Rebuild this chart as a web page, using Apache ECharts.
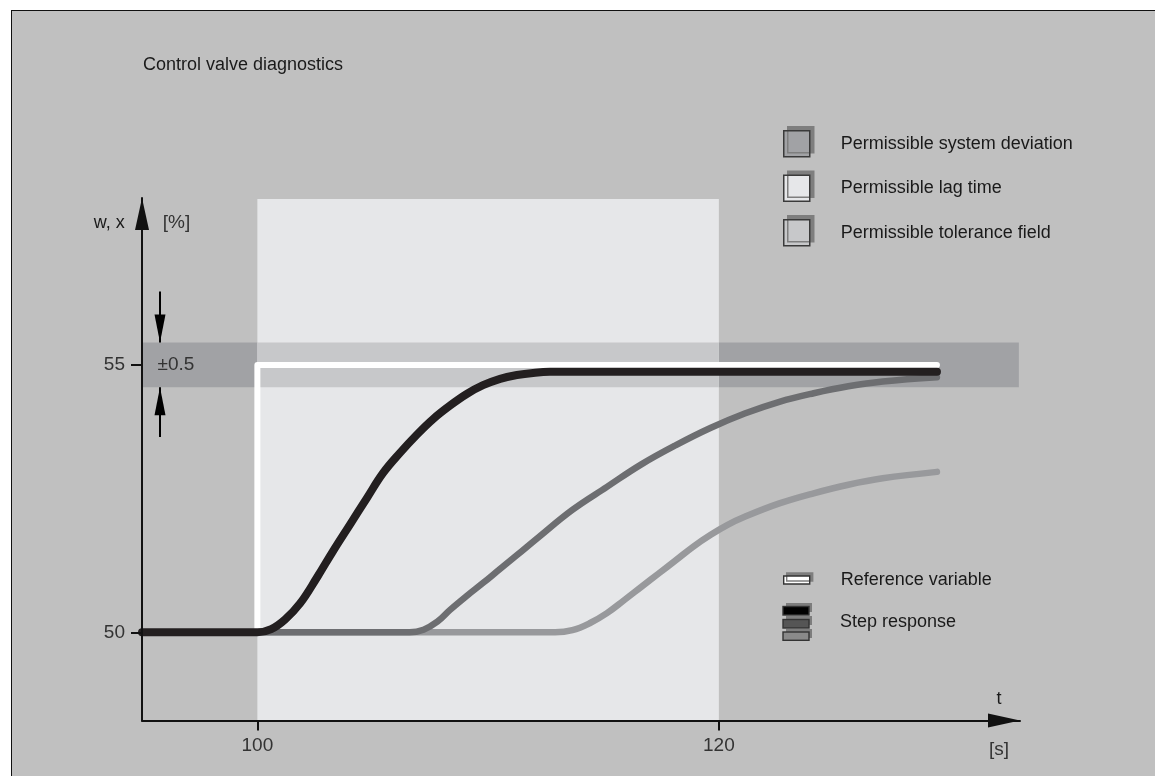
<!DOCTYPE html>
<html>
<head>
<meta charset="utf-8">
<script src="https://cdn.jsdelivr.net/npm/echarts@6/dist/echarts.min.js"></script>
<style>
html,body{margin:0;padding:0;background:#ffffff;overflow:hidden;width:1155px;height:776px}
#frame{position:absolute;left:11px;top:10px;width:1200px;height:820px;box-sizing:border-box;border:1.5px solid #111;background:#c0c0c0}
#chart{position:absolute;left:0;top:0;width:1155px;height:776px}
</style>
</head>
<body>
<div id="frame"></div>
<div id="chart"></div>
<script>
// ---- data ----
const timeTicks = [100, 120];
const valueTicks = [50, 55];
const timeRange = [95, 133.05];
const valueRange = [48.35, 58.12];
const lagWindow = [100, 120];
const lagTop = 58.1;
const setpoint = 55;
const bandHalfWidth = 0.42;
const bandEnd = 133;
const toleranceArrowStarts = [56.37, 53.65];

const referenceVariable = [[95, 50], [100, 50], [100, 55], [129.45, 55]];
const responseFast = [[95, 50], [100, 50], [100.6, 50.06], [101.2, 50.24], [101.85, 50.54], [102.59, 51.03], [103.28, 51.52], [104.02, 52.02], [104.76, 52.52], [105.45, 52.98], [106.19, 53.36], [106.92, 53.7], [107.62, 53.99], [108.35, 54.24], [109.09, 54.46], [109.78, 54.62], [110.52, 54.74], [111.25, 54.81], [111.95, 54.85], [112.68, 54.87], [129.45, 54.87]];
const responseMedium = [[95, 50], [106.6, 50], [107.2, 50.05], [107.8, 50.2], [108.35, 50.42], [109.07, 50.68], [109.8, 50.93], [110.5, 51.18], [111.24, 51.44], [112.16, 51.77], [113.65, 52.29], [115.15, 52.72], [116.64, 53.14], [118.14, 53.5], [119.63, 53.82], [121.12, 54.09], [122.62, 54.31], [124.11, 54.47], [125.61, 54.6], [127.1, 54.69], [129.45, 54.77]];
const responseSlow = [[95, 50], [112.9, 50], [113.65, 50.04], [114.4, 50.17], [115.15, 50.36], [115.89, 50.6], [116.64, 50.85], [117.39, 51.1], [118.14, 51.35], [118.88, 51.6], [119.63, 51.82], [120.38, 52.01], [121.12, 52.16], [122.62, 52.41], [124.11, 52.6], [125.61, 52.76], [127.1, 52.88], [129.45, 53.0]];

// ---- chart ----
const FONT = '"Liberation Sans", Arial, sans-serif';
const TEXT = '#1a1a1a';
const bandLow = setpoint - bandHalfWidth;
const bandHigh = setpoint + bandHalfWidth;
const arrowX = 95.78;

const stepSvg = '<svg xmlns="http://www.w3.org/2000/svg" width="30" height="38" viewBox="0 0 30 38">' +
  '<g fill="#7d7d7d"><rect x="4" y="0" width="26" height="9"/><rect x="4" y="13" width="26" height="9"/><rect x="4" y="26" width="26" height="9"/></g>' +
  '<g stroke="#333" stroke-width="1.4"><rect x="1" y="3.5" width="26" height="8.5" fill="#000"/><rect x="1" y="16.5" width="26" height="8.5" fill="#555"/><rect x="1" y="29" width="26" height="8.3" fill="#8a8a8a"/></g></svg>';
const stepIcon = 'image://data:image/svg+xml;charset=utf-8,' + encodeURIComponent(stepSvg);

function lineSeries(name, data, color, width, z) {
  return {
    name: name, type: 'line', data: data, z: z,
    showSymbol: false, symbol: 'none', smooth: 0.4,
    clip: true, silent: true,
    lineStyle: { color: color, width: width, cap: 'round', join: 'round' },
    itemStyle: { color: color },
    emphasis: { disabled: true }
  };
}

const legendText = { fontSize: 18, color: TEXT, fontFamily: FONT, padding: [0, 0, 0, 26] };

const option = {
  backgroundColor: 'transparent',
  animation: false,
  textStyle: { fontFamily: FONT },
  title: {
    text: 'Control valve diagnostics', left: 143, top: 56, padding: 0,
    textStyle: { fontSize: 18, fontWeight: 'normal', color: TEXT, fontFamily: FONT }
  },
  grid: { left: 142, right: 135, top: 198, bottom: 55.4, containLabel: false },
  legend: [
    {
      orient: 'vertical', left: 783, top: 130, padding: 0, itemWidth: 26, itemHeight: 26, itemGap: 17,
      icon: 'rect', selectedMode: false, textStyle: legendText,
      itemStyle: { borderColor: '#3a3a3a', borderWidth: 1.5, shadowColor: '#7e7e7e', shadowBlur: 0, shadowOffsetX: 4, shadowOffsetY: -4 },
      data: [
        { name: 'Permissible system deviation', itemStyle: { color: '#a1a2a5' } },
        { name: 'Permissible lag time', itemStyle: { color: '#e6e7e9' } },
        { name: 'Permissible tolerance field', itemStyle: { color: '#c7c8ca' } }
      ]
    },
    {
      orient: 'vertical', left: 783, top: 571, padding: 0, itemWidth: 26, itemHeight: 8,
      icon: 'rect', selectedMode: false, textStyle: legendText,
      itemStyle: { borderColor: '#333', borderWidth: 1.4, shadowColor: '#7e7e7e', shadowBlur: 0, shadowOffsetX: 3, shadowOffsetY: -3 },
      data: [{ name: 'Reference variable', itemStyle: { color: '#ffffff' } }]
    },
    {
      orient: 'vertical', left: 782, top: 603, padding: 0, itemWidth: 30, itemHeight: 38,
      selectedMode: false, textStyle: Object.assign({}, legendText, { padding: [0, 0, 0, 23] }),
      data: [{ name: 'Step response', icon: stepIcon }]
    }
  ],
  xAxis: {
    type: 'value', min: timeRange[0], max: timeRange[1], z: 10,
    name: '{t|t}\n{s|[s]}', nameLocation: 'end', nameGap: -21,
    nameTextStyle: {
      align: 'center', verticalAlign: 'middle', padding: [8, 0, 0, 0],
      rich: {
        t: { fontSize: 18, lineHeight: 51, color: TEXT, fontFamily: FONT, align: 'center' },
        s: { fontSize: 19, lineHeight: 51, color: '#333', fontFamily: FONT, align: 'center' }
      }
    },
    axisLine: { show: true, onZero: false, lineStyle: { color: '#111', width: 2 }, symbol: ['none', 'triangle'], symbolSize: [14, 32], symbolOffset: [0, -16] },
    axisTick: { show: true, length: 10, lineStyle: { color: '#111', width: 2 }, customValues: timeTicks },
    axisLabel: { show: true, customValues: timeTicks, margin: 16, fontSize: 19, color: '#333', fontFamily: FONT },
    splitLine: { show: false }
  },
  yAxis: {
    type: 'value', min: valueRange[0], max: valueRange[1], z: 10,
    name: '{a|w, x}{g|}{b|[%]}', nameLocation: 'end', nameGap: -25,
    nameTextStyle: {
      align: 'center', verticalAlign: 'middle',
      rich: {
        a: { fontSize: 18, color: TEXT, fontFamily: FONT },
        g: { width: 38 },
        b: { fontSize: 19, color: '#333', fontFamily: FONT }
      }
    },
    axisLine: { show: true, onZero: false, lineStyle: { color: '#111', width: 2 }, symbol: ['none', 'triangle'], symbolSize: [14, 32], symbolOffset: [0, -16] },
    axisTick: { show: true, length: 11, lineStyle: { color: '#111', width: 2 }, customValues: valueTicks },
    axisLabel: { show: true, customValues: valueTicks, margin: 17, fontSize: 19, color: '#333', fontFamily: FONT },
    splitLine: { show: false }
  },
  series: [
    {
      name: 'Permissible lag time', type: 'line', data: [], z: 1, silent: true,
      markArea: {
        silent: true, z: 1, label: { show: false },
        itemStyle: { color: '#e6e7e9', borderWidth: 0 },
        data: [[{ coord: [lagWindow[0], valueRange[0]] }, { coord: [lagWindow[1], lagTop] }]]
      }
    },
    {
      name: 'Permissible system deviation', type: 'line', data: [], z: 2, silent: true,
      markArea: {
        silent: true, z: 2, label: { show: false },
        itemStyle: { color: '#a1a2a5', borderWidth: 0 },
        data: [
          [{ coord: [timeRange[0], bandLow] }, { coord: [lagWindow[0], bandHigh] }],
          [{ coord: [lagWindow[1], bandLow] }, { coord: [bandEnd, bandHigh] }]
        ]
      },
      markLine: {
        silent: true, z: 9, animation: false,
        symbol: ['none', 'triangle'], symbolSize: [11, 28], symbolOffset: [0, [0, 14]],
        lineStyle: { color: '#000', width: 2, type: 'solid' },
        label: { show: false },
        emphasis: { disabled: true },
        data: [
          [{ coord: [arrowX, toleranceArrowStarts[0]] }, { coord: [arrowX, bandHigh] }],
          [{ coord: [arrowX, toleranceArrowStarts[1]] }, { coord: [arrowX, bandLow] }]
        ]
      },
      markPoint: {
        silent: true, z: 9, symbol: 'circle', symbolSize: 0,
        label: { show: true, formatter: '\u00b10.5', position: 'right', distance: 0, fontSize: 19, color: '#333', fontFamily: FONT },
        data: [{ coord: [95.67, setpoint] }]
      }
    },
    {
      name: 'Permissible tolerance field', type: 'line', data: [], z: 2, silent: true,
      markArea: {
        silent: true, z: 2, label: { show: false },
        itemStyle: { color: '#c7c8ca', borderWidth: 0 },
        data: [[{ coord: [lagWindow[0], bandLow] }, { coord: [lagWindow[1], bandHigh] }]]
      }
    },
    lineSeries('Step response', responseSlow, '#98999c', 6.5, 3),
    lineSeries('Step response', responseMedium, '#6d6e71', 6.5, 4),
    Object.assign(lineSeries('Reference variable', referenceVariable, '#ffffff', 6, 5), { smooth: false }),
    lineSeries('Step response', responseFast, '#231f20', 8, 6)
  ]
};

const chart = echarts.init(document.getElementById('chart'), null, { renderer: 'canvas' });
chart.setOption(option);
</script>
</body>
</html>
